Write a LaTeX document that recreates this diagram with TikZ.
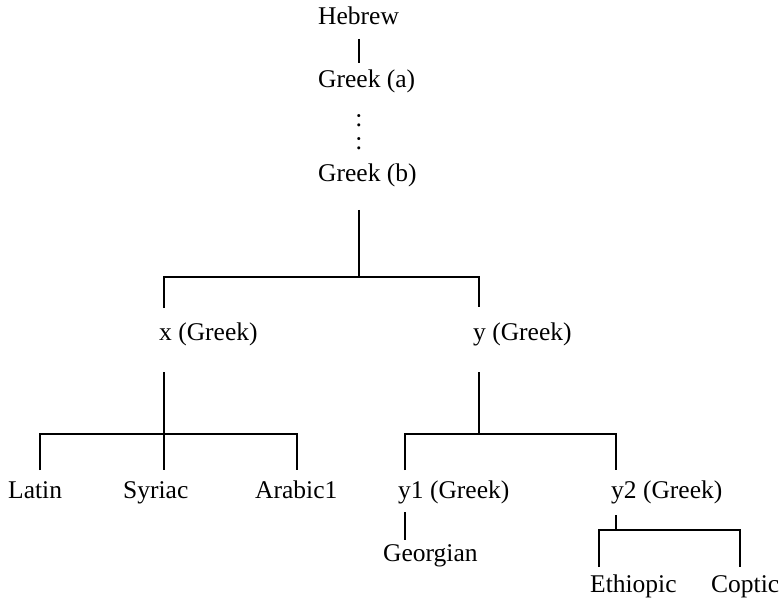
\documentclass[tikz,border=0pt]{standalone}
\usepackage{fontspec}
\setmainfont{Liberation Serif}
\begin{document}
\begin{tikzpicture}[x=1pt,y=-1pt,
  lbl/.style={anchor=base west,inner sep=0pt,font=\fontsize{25.5}{30}\selectfont},
  dotlbl/.style={anchor=base,inner sep=0pt,font=\fontsize{25.5}{30}\selectfont},
  edge/.style={line width=1.1pt,line cap=butt}]
\useasboundingbox (0,0) rectangle (783,601);
% labels
\node[lbl] (heb) at (318,25) {Hebrew};
\node[lbl] (ga) at (318,88) {Greek (a)};
\node[dotlbl] (d1) at (359,127) {:};
\node[dotlbl] (d2) at (359,150) {:};
\node[lbl] (gb) at (318,182) {Greek (b)};
\node[lbl] (x) at (159,340) {x (Greek)};
\node[lbl] (y) at (473,340) {y (Greek)};
\node[lbl] (lat) at (8,498) {Latin};
\node[lbl] (syr) at (123,498) {Syriac};
\node[lbl] (ara) at (255,498) {Arabic1};
\node[lbl] (y1) at (398,498) {y1 (Greek)};
\node[lbl] (y2) at (611,498) {y2 (Greek)};
\node[lbl] (geo) at (383,561) {Georgian};
\node[lbl] (eth) at (590,592) {Ethiopic};
\node[lbl] (cop) at (711,592) {Coptic};
% junction coordinates
\coordinate (hebB) at (359,39);
\coordinate (gaT) at (359,63);
\coordinate (gbB) at (359,210);
\coordinate (j0) at (359,277);
\coordinate (j0l) at (164,277);
\coordinate (j0r) at (479,277);
\coordinate (xT) at (164,308);
\coordinate (yT) at (479,307);
\coordinate (xB) at (164,372);
\coordinate (jx) at (164,434);
\coordinate (jxl) at (40,434);
\coordinate (jxr) at (297,434);
\coordinate (latT) at (40,470);
\coordinate (syrT) at (164,470);
\coordinate (araT) at (297,470);
\coordinate (yB) at (479,372);
\coordinate (jy) at (479,434);
\coordinate (jyl) at (405,434);
\coordinate (jyr) at (616,434);
\coordinate (y1T) at (405,470);
\coordinate (y2T) at (616,470);
\coordinate (y1B) at (405,512);
\coordinate (geoT) at (405,540);
\coordinate (y2B) at (616,515);
\coordinate (jz) at (616,530);
\coordinate (jzl) at (599,530);
\coordinate (jzr) at (740,530);
\coordinate (ethT) at (599,567);
\coordinate (copT) at (740,567);
% connectors
\draw[edge] (hebB) -- (gaT);
\draw[edge] (gbB) -- (j0);
\draw[edge] (xT) -- (j0l) -- (j0r) -- (yT);
\draw[edge] (xB) -- (jx);
\draw[edge] (latT) -- (jxl) -- (jxr) -- (araT);
\draw[edge] (jx) -- (syrT);
\draw[edge] (yB) -- (jy);
\draw[edge] (y1T) -- (jyl) -- (jyr) -- (y2T);
\draw[edge] (y1B) -- (geoT);
\draw[edge] (y2B) -- (jz);
\draw[edge] (ethT) -- (jzl) -- (jzr) -- (copT);
\end{tikzpicture}
\end{document}
